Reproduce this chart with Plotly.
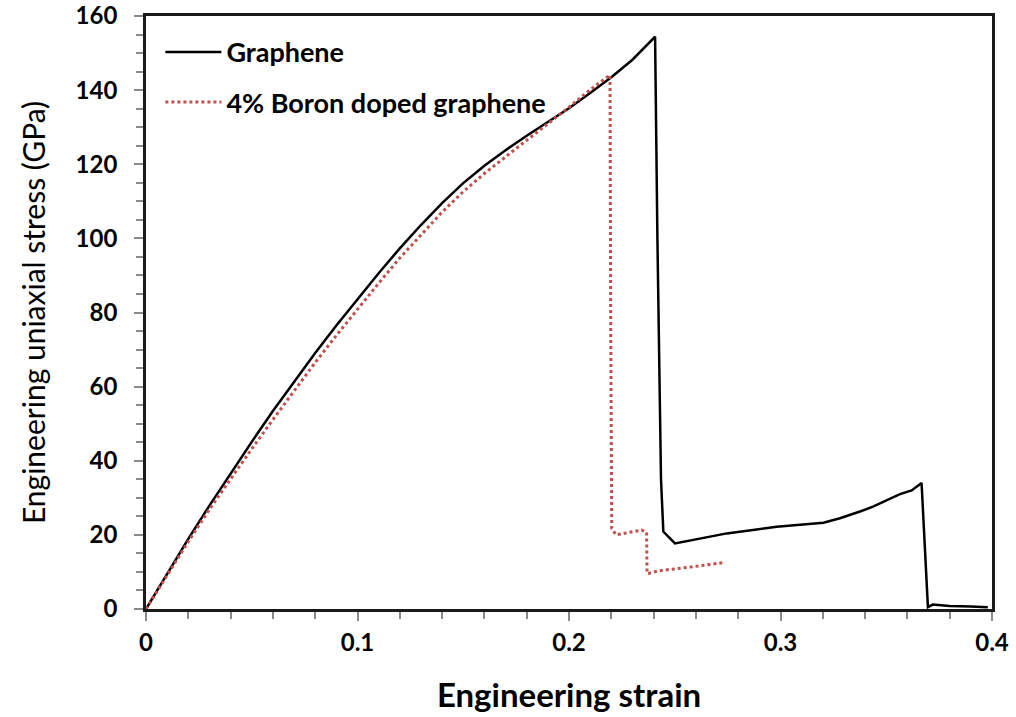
import plotly.graph_objects as go

# Graphene
g_strain = [0, 0.01, 0.02, 0.03, 0.04, 0.05, 0.06, 0.07, 0.08, 0.09, 0.10, 0.11, 0.12,
            0.13, 0.14, 0.15, 0.16, 0.17, 0.18, 0.19, 0.20, 0.21, 0.22, 0.23, 0.2407,
            0.2418, 0.2435, 0.2446, 0.2501, 0.2746, 0.2982, 0.3203, 0.3281, 0.3376,
            0.3437, 0.3565, 0.362, 0.3667, 0.3685, 0.3697, 0.372, 0.38, 0.39, 0.398]
g_stress = [0, 9.6, 18.9, 27.9, 36.6, 45.1, 53.4, 61.3, 69.1, 76.5, 83.7, 90.6, 97.3,
            103.6, 109.5, 114.9, 119.6, 123.8, 127.7, 131.4, 135.1, 139.2, 143.5, 148.2, 154.4,
            100.0, 35.0, 20.9, 17.7, 20.4, 22.2, 23.3, 24.5, 26.3,
            27.6, 31.0, 32.0, 34.0, 15.0, 0.5, 1.2, 0.8, 0.7, 0.5]

# 4% Boron doped graphene
b_strain = [0, 0.01, 0.02, 0.03, 0.04, 0.05, 0.06, 0.07, 0.08, 0.09, 0.10, 0.11, 0.12,
            0.13, 0.14, 0.15, 0.16, 0.17, 0.18, 0.19, 0.20, 0.21, 0.2194, 0.2197, 0.2202,
            0.2222, 0.2256, 0.232, 0.2343, 0.2367, 0.2369, 0.2375, 0.2422, 0.2572, 0.273]
b_stress = [0, 9.2, 18.2, 26.9, 35.1, 43.2, 51.1, 58.9, 66.5, 73.8, 81.0, 87.9, 94.7,
            101.0, 107.1, 112.6, 117.5, 122.0, 126.4, 130.8, 135.4, 140.1, 144.1, 80.0, 21.8,
            20.0, 20.4, 21.2, 21.3, 20.7, 9.6, 9.6, 10.3, 11.3, 12.5]

x_ticks = [0, 0.1, 0.2, 0.3, 0.4]
x_ticklabels = ["0", "0.1", "0.2", "0.3", "0.4"]
y_ticks = [0, 20, 40, 60, 80, 100, 120, 140, 160]

FONT = "Lato"

fig = go.Figure()
fig.add_trace(go.Scatter(
    x=g_strain, y=g_stress, mode="lines", name="Graphene",
    line=dict(color="#000000", width=2.5), legendgroup="g"))
fig.add_trace(go.Scatter(
    x=b_strain, y=b_stress, mode="lines", name="4% Boron doped graphene",
    line=dict(color="#C0504D", width=3, dash="dot"), legendgroup="b"))

axis_common = dict(
    showgrid=False, zeroline=False, showline=True, linecolor="#1a1a1a", linewidth=2.7,
    mirror=True, ticks="outside", tickcolor="#8a8a8a", ticklen=9, tickwidth=1.5,
    automargin=False, ticklabeloverflow="allow",
    tickfont=dict(family=FONT, size=24, color="#000000", weight="bold"),
)

fig.update_xaxes(
    range=[0, 0.4], tickvals=x_ticks, ticktext=x_ticklabels, ticklabelstandoff=1,
    minor=dict(dtick=0.02, ticks="outside", ticklen=7, tickcolor="#8a8a8a", tickwidth=1.5),
    title=dict(text="<b>Engineering strain</b>", font=dict(family=FONT, size=33, color="#000000"),
               standoff=30),
    **axis_common)
fig.update_yaxes(
    range=[0, 160], tickvals=y_ticks, ticklabelstandoff=12,
    minor=dict(dtick=5, ticks="outside", ticklen=7, tickcolor="#8a8a8a", tickwidth=1.5),
    title=dict(text="Engineering uniaxial stress (GPa)", font=dict(family=FONT, size=30, color="#000000"),
               standoff=22),
    **axis_common)

fig.update_layout(
    width=1016, height=717,
    margin=dict(l=146, r=24, t=16, b=108),
    paper_bgcolor="white", plot_bgcolor="white",
    showlegend=True,
    legend=dict(x=0.017, y=0.98, xanchor="left", yanchor="top",
                bgcolor="rgba(0,0,0,0)", tracegroupgap=12, traceorder="grouped",
                font=dict(family=FONT, size=27, color="#000000", weight="bold"),
                itemwidth=56),
)

fig.write_html("out.html", config={"displayModeBar": False},
               post_script="document.body.style.margin='0';")
